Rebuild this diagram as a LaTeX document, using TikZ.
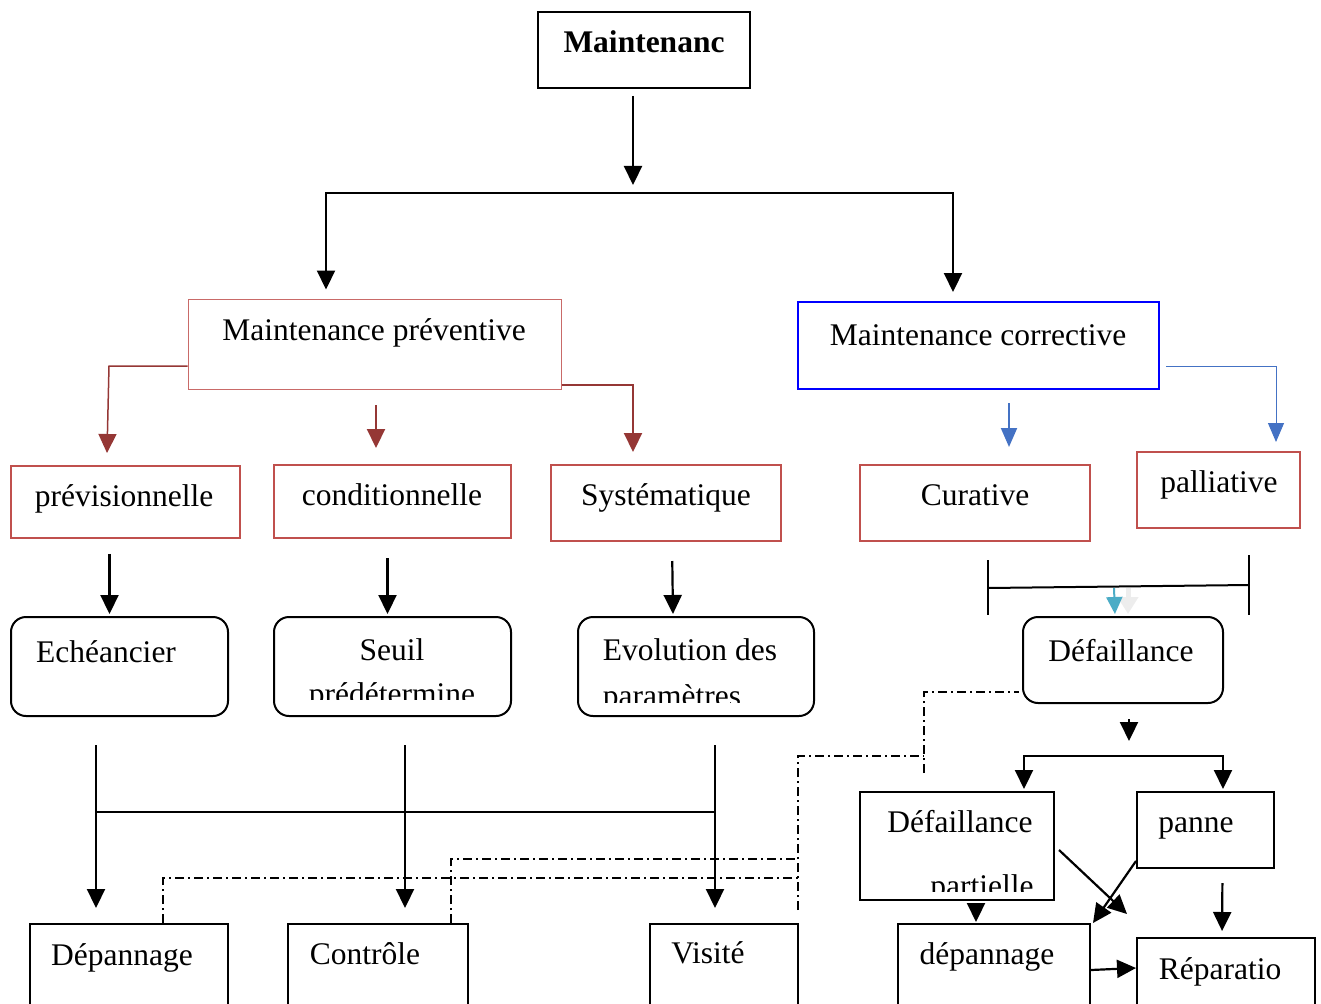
\documentclass[tikz,border=0pt]{standalone}
\usepackage{fontspec}
\setmainfont{Liberation Serif}
\usetikzlibrary{fit,arrows.meta}
\definecolor{boxred}{HTML}{C0504D}
\definecolor{arrred}{HTML}{953735}
\definecolor{arrblue}{HTML}{4472C4}
\definecolor{arrcyan}{HTML}{4BACC6}
\begin{document}
\begin{tikzpicture}[x=1pt,y=-1pt]
\tikzstyle{box}=[draw,line width=2pt,inner sep=0pt]
\tikzstyle{rbox}=[box,rounded corners=15pt]
\tikzstyle{redbox}=[box,draw=boxred]
\tikzstyle{txt}=[inner sep=0pt,anchor=base,font=\fontsize{31.5}{36}\selectfont]
\tikzstyle{arr}=[line width=2.2pt,-{Triangle[length=19pt,width=18pt]}]
\tikzstyle{biarr}=[line width=2.2pt,{Triangle[length=19pt,width=18pt]}-{Triangle[length=19pt,width=18pt]}]
\tikzstyle{redarr}=[arr,draw=arrred,-{Triangle[length=19pt,width=18pt,color=arrred]}]
\tikzstyle{bluearr}=[arr,line width=1.5pt,draw=arrblue,-{Triangle[length=19pt,width=16pt,color=arrblue]}]
\tikzstyle{dd}=[line width=1.5pt,dash pattern=on 9pt off 4pt on 2pt off 4pt]
\useasboundingbox (0,0) rectangle (1321,1003);
\node[box,fit={(538,12)(750,88)}] (maint) {};
\node[box,line width=1pt,draw=boxred!85,fit={(188,299)(561,389)}] (prev) {};
\node[box,draw=blue,fit={(798,302)(1159,389)}] (corr) {};
\node[redbox,line width=1.5pt,fit={(11,466)(240,538)}] (previs) {};
\node[redbox,fit={(274,465)(511,538)}] (cond) {};
\node[redbox,fit={(551,465)(781,541)}] (syst) {};
\node[redbox,fit={(860,465)(1090,541)}] (cura) {};
\node[redbox,fit={(1137,452)(1300,528)}] (pall) {};
\node[rbox,fit={(11,617)(228,716)}] (echea) {};
\node[rbox,fit={(274,617)(511,716)}] (seuil) {};
\node[rbox,fit={(578,617)(814,716)}] (evol) {};
\node[rbox,fit={(1023,617)(1223,703)}] (defa) {};
\node[box,fit={(860,792)(1054,900)}] (defpart) {};
\node[box,fit={(1137,792)(1274,868)}] (panne) {};
\node[box,fit={(898,924)(1090,1012)}] (depan2) {};
\node[box,fit={(1137,938)(1315,1012)}] (repar) {};
\node[box,fit={(30,924)(228,1012)}] (depan) {};
\node[box,fit={(288,924)(468,1012)}] (contr) {};
\node[box,fit={(650,924)(798,1012)}] (visit) {};
\node[txt] (maintT) at (644,53) {\textbf{Maintenanc}};
\node[txt] (prevT) at (374,340) {Maintenance préventive};
\node[txt] (corrT) at (978,345) {Maintenance corrective};
\node[txt] (previsT) at (124,506) {prévisionnelle};
\node[txt] (condT) at (392,505) {conditionnelle};
\node[txt] (systT) at (666,505) {Systématique};
\node[txt] (curaT) at (975,505) {Curative};
\node[txt] (pallT) at (1219,492) {palliative};
\node[txt] (echeaT) at (106,662) {Echéancier};
\node[txt] (seuilT) at (392,660) {Seuil};
\node[txt] (evolT) at (690,660) {Evolution des};
\node[txt] (defaT) at (1121,661) {Défaillance};
\node[txt] (defpartT) at (960,832) {Défaillance};
\node[txt] (panneT) at (1196,832) {panne};
\node[txt] (depan2T) at (987,964) {dépannage};
\node[txt] (reparT) at (1220,979) {Réparatio};
\node[txt] (depanT) at (122,965) {Dépannage};
\node[txt] (contrT) at (365,964) {Contrôle};
\node[txt] (visitT) at (708,963) {Visité};
\begin{scope}
\clip (274,600) rectangle (511,699);
\node[txt] (seuilU) at (392,704) {prédétermine};
\end{scope}
\begin{scope}
\clip (578,600) rectangle (814,702);
\node[txt] (evolU) at (672,706) {paramètres};
\end{scope}
\begin{scope}
\clip (860,780) rectangle (1054,891);
\node[txt] (defpartU) at (982,896) {partielle};
\end{scope}
\coordinate (split) at (633,193);
\coordinate (l1) at (326,193);
\coordinate (r1) at (953,193);
\draw[arr,shorten <=7pt,shorten >=8pt] (maint.south -| split) -- (split);
\draw[biarr,shorten <=9pt,shorten >=9pt] (l1 |- prev.north) -- (l1) -- (r1) -- (r1 |- corr.north);
\coordinate (pv1) at (109,366);
\coordinate (pv2) at (107,453);
\coordinate (cd1) at (376,405);
\coordinate (cd2) at (376,448);
\coordinate (sy1) at (633,385);
\draw[redarr,line width=1.5pt] (prev.west |- pv1) -- (pv1) -- (pv2);
\draw[redarr] (cd1) -- (cd2);
\draw[redarr,shorten >=12pt] (prev.east |- sy1) -- (sy1) -- (sy1 |- syst.north);
\coordinate (cu1) at (1009,403);
\coordinate (pa1) at (1276,366);
\draw[bluearr,line width=2pt,shorten >=17pt] (cu1) -- (cu1 |- cura.north);
\draw[bluearr,line width=1pt,shorten >=9pt] ([xshift=6pt]corr.east |- pa1) -- (pa1) -- (pa1 |- pall.north);
\draw[arr,shorten <=15pt,shorten >=2pt] ([xshift=-16pt]previs.south) -- ([xshift=-10pt]echea.north);
\draw[arr,shorten <=19pt,shorten >=2pt] ([xshift=-5pt]cond.south) -- ([xshift=-5pt]seuil.north);
\draw[arr,shorten <=19pt,shorten >=2pt] ([xshift=6pt]syst.south) -- ([xshift=-23pt]evol.north);
\coordinate (bl) at (988,588);
\coordinate (br) at (1249,585);
\draw[line width=2pt] (bl) -- (br);
\draw[line width=2pt] ([yshift=28pt]bl) -- ([yshift=-27pt]bl);
\draw[line width=2pt] ([yshift=30pt]br) -- ([yshift=-30pt]br);
\draw[line width=5pt,draw=black!7,-{Triangle[length=17pt,width=20pt,color=black!7]},shorten >=2pt] ([xshift=140pt]bl) -- ([xshift=5pt]defa.north);
\draw[line width=2pt,draw=arrcyan,-{Triangle[length=17pt,width=16pt,color=arrcyan]},shorten >=2pt] ([xshift=126pt]bl) -- ([xshift=-8pt]defa.north);
\draw[arr,shorten <=15pt] ([xshift=6pt]defa.south) -- ++(0,37);
\coordinate (ds1) at (1024,756);
\coordinate (ds2) at (1223,756);
\draw[biarr,shorten <=2pt,shorten >=2pt] (ds1 |- defpart.north) -- (ds1) -- (ds2) -- (ds2 |- panne.north);
\draw[arr,shorten <=4pt,shorten >=1pt] ([xshift=19pt]defpart.south) -- ([xshift=19pt]defpart.south |- depan2.north);
\draw[arr] ([xshift=4pt,yshift=-4pt]defpart.east) -- ([shift={(-9pt,23pt)}]repar.north west);
\draw[arr] ([yshift=8pt]panne.south west) -- ([xshift=2pt]depan2.north east);
\draw[arr,shorten <=14pt,shorten >=6pt] ([xshift=17pt]panne.south) -- ([xshift=-4pt]repar.north);
\draw[arr] ([yshift=-2pt]depan2.east) -- ([yshift=7pt]repar.west);
\coordinate (v1) at (96,745);
\coordinate (v2) at (405,745);
\coordinate (v3) at (715,745);
\coordinate (h1) at (96,812);
\draw[line width=2pt] (h1) -- (h1 -| v3);
\draw[arr,shorten >=15pt] (v1) -- (v1 |- depan.north);
\draw[arr,shorten >=15pt] (v2) -- (v2 |- contr.north);
\draw[arr,shorten >=15pt] (v3) -- (v3 |- visit.north);
\coordinate (d1) at (798,756);
\coordinate (d2) at (924,692);
\coordinate (d3) at (798,878);
\coordinate (d4) at (798,859);
\coordinate (d5) at (798,910);
\coordinate (d6) at (924,773);
\draw[dd] ([xshift=34pt]depan.north) |- (d3);
\draw[dd] ([xshift=73pt]contr.north) |- (d4);
\draw[dd] (d5) -- (d1) -- (d1 -| d2);
\draw[dd] (d6) -- (d2) -- ([xshift=-3pt]defa.west |- d2);
\end{tikzpicture}
\end{document}
